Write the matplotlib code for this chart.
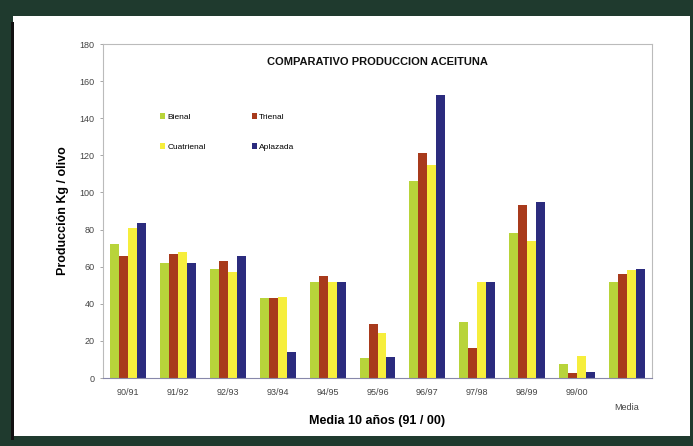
import matplotlib
matplotlib.use("Agg")
import matplotlib.pyplot as plt
import matplotlib.transforms as mtransforms
from matplotlib.patches import Rectangle
import numpy as np

plt.rcParams['font.family'] = ['Liberation Sans', 'DejaVu Sans']

categories = ["90/91", "91/92", "92/93", "93/94", "94/95", "95/96",
              "96/97", "97/98", "98/99", "99/00", "Media"]
bienal     = [72, 62, 59, 43, 52, 11, 106, 30, 78, 7.5, 52]
trienal    = [66, 67, 63, 43, 55, 29, 121, 16, 93, 2.5, 56]
cuatrienal = [81, 68, 57, 43.5, 52, 24, 115, 52, 74, 12, 58]
aplazada   = [83.5, 62, 66, 14, 52, 11.5, 152.5, 52, 95, 3, 58.5]
series_names = ["Bienal", "Trienal", "Cuatrienal", "Aplazada"]
yticks = [0, 20, 40, 60, 80, 100, 120, 140, 160, 180]

colors = ["#b8d43a", "#a83a1c", "#f6ee3c", "#2b2b7e"]

fig = plt.figure(figsize=(6.93, 4.46), dpi=100)
fig.patch.set_facecolor("#1f3a2e")
# white panel
fig.patches.append(Rectangle((13/693, 1-436/446), (690-13)/693, (436-16)/446,
                             transform=fig.transFigure, facecolor="white",
                             edgecolor="none", zorder=-10))
fig.patches.append(Rectangle((11/693, 1-440/446), 3/693, (440-22)/446,
                             transform=fig.transFigure, facecolor="#111111",
                             edgecolor="none", zorder=-9))

ax = fig.add_axes([103/693, 1-378/446, (652-103)/693, (378-44)/446])
ax.set_facecolor("white")

x = np.arange(len(categories))
w = 0.18
data = [bienal, trienal, cuatrienal, aplazada]
handles = []
for i, (vals, name, c) in enumerate(zip(data, series_names, colors)):
    h = ax.bar(x + (i - 1.5) * w, vals, width=w, color=c, label=name, zorder=2)
    handles.append(h)

ax.set_xlim(-0.5, len(categories) - 0.5)
ax.set_ylim(0, 180)
ax.set_yticks(yticks)
ax.set_yticklabels([str(v) for v in yticks], fontsize=6.5, color="#444444")
ax.set_xticks(x)
ax.set_xticklabels(categories, fontsize=6.5, color="#444444")
ax.tick_params(axis='x', length=0, pad=7)
ax.tick_params(axis='y', length=2, width=0.6, color="#999999", pad=4)

# shift "Media" label lower
lab = ax.get_xticklabels()[-1]
off = mtransforms.ScaledTranslation(0, -15/100, fig.dpi_scale_trans)
lab.set_transform(lab.get_transform() + off)

for s in ["left", "top", "right"]:
    ax.spines[s].set_color("#bbbbbb")
    ax.spines[s].set_linewidth(0.8)
ax.spines["bottom"].set_color("#8888aa")
ax.spines["bottom"].set_linewidth(0.8)

ax.set_ylabel("Producción Kg / olivo", fontsize=9, fontweight="bold")
ax.yaxis.set_label_coords(-0.062, 0.5)
ax.set_xlabel("Media 10 años (91 / 00)", fontsize=9, fontweight="bold")
ax.xaxis.set_label_coords(0.5, -0.11)

ax.text(0.5, 0.945, "COMPARATIVO PRODUCCION ACEITUNA", transform=ax.transAxes,
        ha="center", va="center", fontsize=8, fontweight="bold", color="#111111")

order = [0, 2, 1, 3]
leg = ax.legend([handles[k] for k in order], [series_names[k] for k in order],
                loc="upper left", bbox_to_anchor=(0.09, 0.815), ncol=2,
                frameon=False, fontsize=6, handlelength=0.6, handleheight=0.6,
                columnspacing=5.5, labelspacing=2.7, handletextpad=0.3)

fig.savefig("out.png", dpi=100, facecolor=fig.get_facecolor())
